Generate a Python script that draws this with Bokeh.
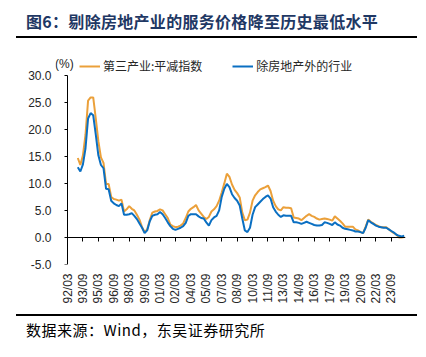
from math import pi
from bokeh.plotting import figure
from bokeh.models import (Range1d, LinearAxis, FixedTicker, NumeralTickFormatter,
                          Legend, LegendItem, Label, Div)
from bokeh.layouts import column
from bokeh.embed import file_html
from bokeh.resources import INLINE

title_text = "图6：剔除房地产业的服务价格降至历史最低水平"
source_text = "数据来源：Wind，东吴证券研究所"
unit_text = "(%)"
series_names = ["第三产业:平减指数", "除房地产外的行业"]

tick_labels = ["92/03", "93/09", "95/03", "96/09", "98/03", "99/09", "01/03", "02/09",
               "04/03", "05/09", "07/03", "08/09", "10/03", "11/09", "13/03", "14/09",
               "16/03", "17/09", "19/03", "20/09", "22/03", "23/09"]
y_ticks = [-5, 0, 5, 10, 15, 20, 25, 30]

# quarterly axis categories, 92/03 ... 24/12
axis_periods = [f"{y % 100:02d}/{m:02d}" for y in range(1992, 2025) for m in (3, 6, 9, 12)]
first_period = "93/03"

# 第三产业:平减指数 (%), quarterly from 93/03
tertiary = [14.7, 13.4, 15.2, 19.0, 25.3, 25.9, 25.9, 22.0, 17.8, 14.8, 13.8, 9.9,
            9.9, 7.5, 7.1, 7.0, 6.8, 7.0, 4.8, 5.2, 5.8, 5.3, 5.0, 4.2,
            3.3, 1.9, 1.0, 1.5, 3.2, 4.6, 4.8, 4.9, 5.2, 5.0, 4.3, 3.6,
            2.4, 2.1, 1.9, 2.0, 2.2, 2.6, 3.6, 4.8, 5.3, 5.6, 6.0, 5.0,
            4.4, 3.8, 3.4, 3.8, 4.8, 5.2, 5.8, 6.8, 8.3, 10.0, 11.8, 11.2,
            9.8, 8.8, 8.2, 7.4, 4.6, 3.2, 3.3, 4.6, 6.8, 7.8, 8.4, 8.9,
            9.1, 9.3, 9.6, 8.6, 6.8, 5.8, 5.2, 5.0, 5.6, 5.5, 5.5, 5.4,
            3.7, 3.6, 3.5, 3.2, 3.6, 4.0, 4.3, 4.0, 3.8, 3.5, 3.3, 3.4,
            3.5, 3.4, 3.3, 3.1, 3.9, 3.5, 3.1, 2.6, 2.0, 2.0, 2.0, 2.0,
            1.5, 1.3, 1.0, 0.8, 2.0, 3.3, 2.9, 2.6, 2.3, 2.1, 1.9, 1.9,
            1.9, 1.5, 1.1, 0.8, 0.5, 0.0, 0.0, 0.1]

# 除房地产外的行业 (%), quarterly from 93/03
ex_real_estate = [13.0, 12.2, 13.5, 16.5, 22.0, 23.0, 22.6, 19.0, 15.2, 13.4, 12.8, 9.0,
                  8.9, 6.8, 6.3, 6.0, 5.8, 6.3, 4.2, 4.2, 4.3, 4.5, 4.0, 3.4,
                  2.6, 1.8, 0.8, 1.3, 3.0, 4.0, 4.2, 4.3, 4.7, 4.3, 3.6, 2.8,
                  2.1, 1.6, 1.4, 1.6, 1.8, 2.1, 2.7, 4.0, 4.3, 4.3, 4.3, 3.9,
                  3.6, 3.5, 2.8, 2.2, 3.2, 3.7, 4.0, 5.0, 7.5, 9.0, 9.9, 9.3,
                  8.0, 7.3, 6.8, 5.9, 3.5, 1.3, 1.0, 1.8, 4.2, 5.6, 6.1, 6.6,
                  7.1, 7.5, 7.8, 7.2, 5.6, 4.8, 4.2, 3.8, 4.1, 4.0, 4.0, 4.0,
                  2.8, 2.8, 2.7, 2.5, 2.7, 2.9, 2.7, 2.5, 2.3, 2.2, 2.2, 2.3,
                  2.8, 2.7, 2.5, 2.3, 2.8, 2.4, 2.2, 1.8, 1.6, 1.5, 1.4, 1.3,
                  1.1, 1.1, 1.0, 0.8, 1.8, 3.2, 2.8, 2.5, 2.2, 2.0, 1.9, 1.8,
                  1.8, 1.5, 1.2, 0.9, 0.5, 0.3, 0.2, 0.3]

ORANGE = "#EBA03A"
BLUE = "#0A6FC2"
TXT = "#262626"
NUM_FONT = "Liberation Sans"
CJK_FONT = "Noto Sans CJK SC"

start = axis_periods.index(first_period)
x = list(range(start, start + len(tertiary)))
tick_pos = [axis_periods.index(t) for t in tick_labels]
x_end = len(axis_periods) - 0.5

p = figure(width=410, height=276,
           x_range=Range1d(-4.675, x_end), y_range=Range1d(-5, 33.65),
           output_backend="svg", toolbar_location=None,
           x_axis_location=None, y_axis_location=None,
           min_border_left=48, min_border_right=12, min_border_top=17, min_border_bottom=50)
p.outline_line_color = None
p.background_fill_color = "white"
p.border_fill_color = "white"
p.grid.visible = False

r1 = p.line(x, tertiary, line_color=ORANGE, line_width=2)
r2 = p.line(x, ex_real_estate, line_color=BLUE, line_width=2)

# value axis line and ticks at the first category, from -5 to 30
y_line = LinearAxis(ticker=FixedTicker(ticks=y_ticks), fixed_location=0,
                    bounds=(y_ticks[0], y_ticks[-1]),
                    major_label_overrides={t: "" for t in y_ticks})
y_line.axis_line_color = "black"
y_line.major_tick_line_color = "black"
y_line.major_tick_in = 0
y_line.major_tick_out = 3
y_line.minor_tick_line_color = None
p.add_layout(y_line, "left")

# value axis labels
y_lab = LinearAxis(ticker=FixedTicker(ticks=y_ticks),
                   formatter=NumeralTickFormatter(format="0.0"))
y_lab.axis_line_color = None
y_lab.major_tick_line_color = None
y_lab.minor_tick_line_color = None
y_lab.major_tick_in = 0
y_lab.major_tick_out = 0
y_lab.major_label_standoff = 4
y_lab.major_label_text_font = NUM_FONT
y_lab.major_label_text_font_size = "12px"
y_lab.major_label_text_color = TXT
p.add_layout(y_lab, "left")

# category axis line and ticks at y = 0
x_line = LinearAxis(ticker=FixedTicker(ticks=tick_pos), fixed_location=0,
                    bounds=(0, x_end),
                    major_label_overrides={t: "" for t in tick_pos})
x_line.axis_line_color = "black"
x_line.major_tick_line_color = "black"
x_line.major_tick_in = 0
x_line.major_tick_out = 4
x_line.minor_tick_line_color = None
p.add_layout(x_line, "below")

# category labels below the -5 level
x_lab = LinearAxis(ticker=FixedTicker(ticks=tick_pos),
                   major_label_overrides={pos: lab for pos, lab in zip(tick_pos, tick_labels)})
x_lab.axis_line_color = None
x_lab.major_tick_line_color = None
x_lab.minor_tick_line_color = None
x_lab.major_tick_in = 0
x_lab.major_tick_out = 0
x_lab.major_label_orientation = pi / 2
x_lab.major_label_standoff = 9
x_lab.major_label_text_font = NUM_FONT
x_lab.major_label_text_font_size = "12px"
x_lab.major_label_text_color = TXT
p.add_layout(x_lab, "below")

legend = Legend(items=[LegendItem(label=series_names[0], renderers=[r1]),
                       LegendItem(label=series_names[1], renderers=[r2])],
                orientation="horizontal", location=(24, 190),
                padding=0, margin=0, spacing=30,
                glyph_width=21, glyph_height=14, label_standoff=3,
                border_line_color=None, background_fill_alpha=0,
                label_text_font=CJK_FONT, label_text_font_size="12px",
                label_text_color=TXT)
p.add_layout(legend)

p.add_layout(Label(x=-1.2, y=32.0, text=unit_text,
                   text_align="center", text_baseline="middle",
                   text_font=NUM_FONT, text_font_size="12px", text_color=TXT))

title_div = Div(text=(f'<div style="margin-left:9px;width:401px;height:31px;'
                      f'border-bottom:2px solid #000;box-sizing:border-box;padding-left:10px;'
                      f'font-family:\'{CJK_FONT}\';font-weight:bold;font-size:16px;letter-spacing:0.3px;'
                      f'color:#1F3864;line-height:29px;white-space:nowrap;">{title_text}</div>'),
                width=410, height=31, margin=(0, 0, 0, 0))
source_div = Div(text=(f'<div style="margin-left:9px;width:401px;height:34px;'
                       f'border-top:2px solid #000;box-sizing:border-box;padding-left:10px;'
                       f'font-family:\'{CJK_FONT}\';font-size:15px;color:#000;letter-spacing:0.5px;'
                       f'line-height:28px;white-space:nowrap;">{source_text}</div>'),
                 width=410, height=34, margin=(0, 0, 0, 0))

layout = column(title_div, p, source_div, spacing=0, margin=(7, 0, 0, 7))
open("out.html", "w").write(file_html(layout, INLINE))
